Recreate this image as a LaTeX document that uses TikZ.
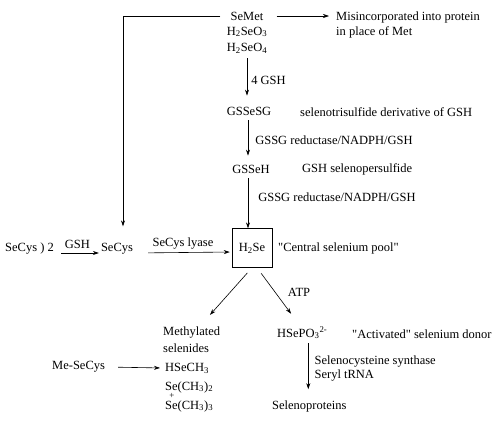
\documentclass[tikz,border=0pt]{standalone}
\usepackage{fontspec}
\setmainfont{Liberation Serif}
\usetikzlibrary{positioning,arrows.meta}

\begin{document}
\begin{tikzpicture}[x=1pt, y=-1pt, >={Stealth[length=6pt,width=4pt]},
  font=\fontsize{12.5}{14}\selectfont,
  every node/.style={inner sep=1pt},
  txt/.style={anchor=west},
  flow/.style={->, line width=0.6pt}]
  \useasboundingbox (0,0) rectangle (500,426);
  % sources
  \node (semet) at (247,16) {SeMet};
  \node (seo3) at (247,32) {H\textsubscript{2}SeO\textsubscript{3}};
  \node (seo4) at (247,48) {H\textsubscript{2}SeO\textsubscript{4}};
  \node[txt] (misinc) at (335,17) {Misincorporated into protein};
  \node[txt] (place) at (335,32) {in place of Met};
  % glutathione route
  \node (gssesg) at (249,111) {GSSeSG};
  \node[txt] (trisulf) at (299,112) {selenotrisulfide derivative of GSH};
  \node (gsseh) at (251,169) {GSSeH};
  \node[txt] (persulf) at (301,169) {GSH selenopersulfide};
  \node[draw, minimum width=40pt, minimum height=39pt] (h2se) at (252,248) {H\textsubscript{2}Se};
  \node[txt] (pool) at (277,248) {\textquotedbl Central selenium pool\textquotedbl};
  \node[txt] (secystwo) at (4,249) {SeCys ) 2};
  \node (secys) at (117,249) {SeCys};
  % products
  \node[txt] (methyl) at (162,333) {Methylated};
  \node[txt] (selenides) at (162,348) {selenides};
  \node[txt] (hsepo) at (276,333) {HSePO\textsubscript{3}\textsuperscript{2-}};
  \node[txt] (donor) at (351,334) {\textquotedbl Activated\textquotedbl\ selenium donor};
  \node[txt] (seleno) at (271,406) {Selenoproteins};
  \node[txt] (mesecys) at (51,367) {Me-SeCys};
  \node[txt] (hsech) at (164,368) {HSeCH\textsubscript{3}};
  \node[txt] (sechtwo) at (164,387) {Se(CH\textsubscript{3})\textsubscript{2}};
  \node[font=\fontsize{9}{10}\selectfont] (plus) at (172,396) {+};
  \node[txt] (sechthree) at (164,406) {Se(CH\textsubscript{3})\textsubscript{3}};

  \draw[flow, shorten <=9pt, shorten >=16pt] (semet.west) -| ([xshift=6pt]secys.north);
  \draw[flow, shorten <=12pt, shorten >=6pt] (semet.east) -- (semet.east -| misinc.west);
  \draw[flow, shorten <=4pt, shorten >=10pt] (seo4.south) -- (seo4.south |- gssesg.north)
    node[midway, right=3pt] (gshfour) {4 GSH};
  \draw[flow, shorten <=4pt, shorten >=8pt] ([xshift=-1pt]gssesg.south) -- ([xshift=-1pt]gssesg.south |- gsseh.north)
    node[midway, right=6pt] (redone) {GSSG reductase/NADPH/GSH};
  \draw[flow, shorten <=4pt] ([xshift=-3pt]gsseh.south) -- ([xshift=-3pt]gsseh.south |- h2se.north)
    node[midway, right=9pt, yshift=4pt] (redtwo) {GSSG reductase/NADPH/GSH};
  \draw[flow, shorten <=6pt, shorten >=1pt] ([yshift=-4pt]secystwo.east) -- ([yshift=-4pt]secys.west)
    node[midway, above=3pt] (gsh) {GSH};
  \draw[flow, shorten <=14pt, shorten >=2pt] ([yshift=-4pt]secys.east) -- ([yshift=-4pt]h2se.west)
    node[midway, above=2pt] (lyase) {SeCys lyase};
  \draw[flow, shorten <=7pt, shorten >=15pt] (h2se.south) -- (methyl.north -| 200,0);
  \draw[flow, shorten <=7pt, shorten >=15pt] ([xshift=5pt]h2se.south) -- (hsepo.north -| 300,0);
  \node (atp) at (299,292) {ATP};
  \draw[flow, shorten <=3pt, shorten >=10pt] ([xshift=6pt]hsepo.south) -- ([xshift=6pt]hsepo.south |- seleno.north)
    node[pos=0.25, right=5pt, anchor=north west, align=left] (synth) {Selenocysteine synthase\\Seryl tRNA};
  \draw[flow, shorten <=12pt, shorten >=4pt] (mesecys.east) -- (hsech.west);
\end{tikzpicture}
\end{document}
